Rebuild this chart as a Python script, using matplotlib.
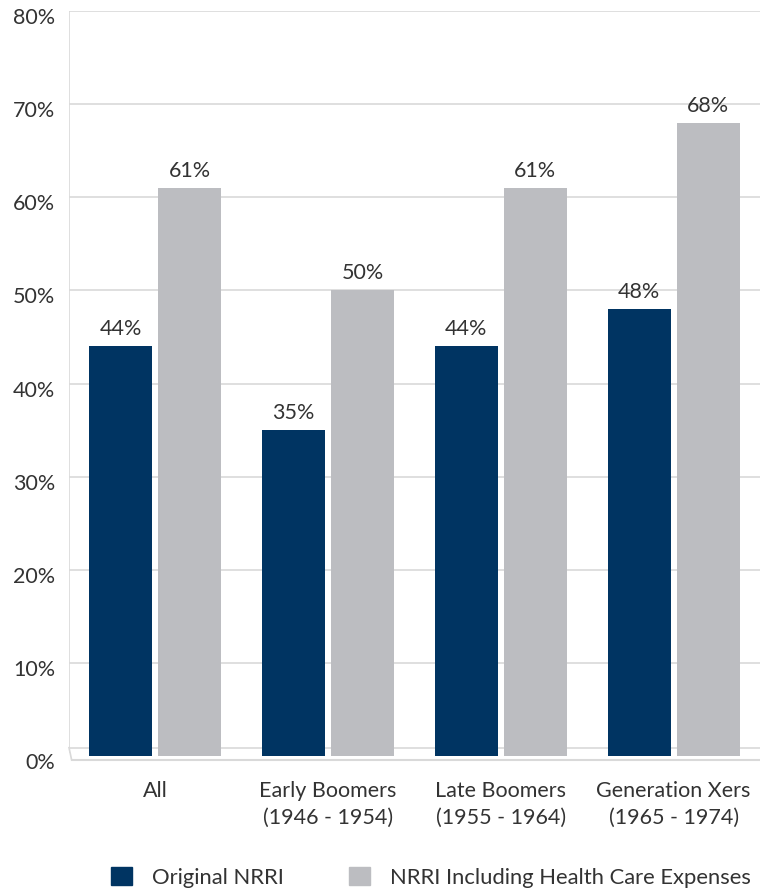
import numpy as np
import matplotlib
matplotlib.use('Agg')
import matplotlib.pyplot as plt
import matplotlib.transforms as mtransforms
from matplotlib.patches import Rectangle

# NRRI shares by cohort (%)
categories = ['All', 'Early Boomers\n(1946 - 1954)', 'Late Boomers\n(1955 - 1964)', 'Generation Xers\n(1965 - 1974)']
original_nrri = [44, 35, 44, 48]
nrri_health = [61, 50, 61, 68]
series_names = ['Original NRRI', 'NRRI Including Health Care Expenses']
y_ticks = [0, 10, 20, 30, 40, 50, 60, 70, 80]

NAVY = '#003462'
GRAY = '#bcbdc1'
TEXT = '#333333'
GRID = '#d9d9d9'

plt.rcParams['font.family'] = ['Lato', 'DejaVu Sans']

fig = plt.figure(figsize=(7.6, 8.93), dpi=100)
ax = fig.add_axes([0.0908, 0.1471, 0.9092, 0.8406])

x = np.arange(len(categories))
width = 0.365
offset = 0.2

ax.set_xlim(-0.5, 3.5)
ax.set_ylim(-0.6, 80)

# gridlines (skip zero, the floor is drawn separately)
for yv in y_ticks[1:]:
    ax.axhline(yv, color=GRID, linewidth=1.2, zorder=0)

# floor and back wall
ax.axvline(-0.5, ymin=0.013, ymax=1.0, color=GRID, linewidth=1.2, zorder=0)
ax.axhline(0.9, color=GRID, linewidth=1.2, zorder=0)
ax.plot([-0.5, -0.485], [0.9, -0.4], color=GRID, linewidth=1.2, zorder=0, clip_on=False)
ax.plot([-0.485, 3.5], [-0.4, -0.4], color=GRID, linewidth=1.5, zorder=0, clip_on=False)

b1 = ax.bar(x - offset, original_nrri, width, color=NAVY, label=series_names[0], zorder=2)
b2 = ax.bar(x + offset, nrri_health, width, color=GRAY, label=series_names[1], zorder=2)

for bars, vals in ((b1, original_nrri), (b2, nrri_health)):
    for rect, v in zip(bars, vals):
        ax.annotate(f'{v}%', xy=(rect.get_x() + rect.get_width() / 2, v),
                    xytext=(0, 5), textcoords='offset points',
                    ha='center', va='bottom', fontsize=15.5, color=TEXT)

for s in ax.spines.values():
    s.set_visible(False)

ax.set_yticks(y_ticks)
ax.set_yticklabels([f'{v}%' for v in y_ticks], fontsize=15.5, color=TEXT)
ax.tick_params(axis='y', length=0, pad=10)
shift = mtransforms.ScaledTranslation(0, -5 / 100, fig.dpi_scale_trans)
for lbl in ax.get_yticklabels():
    lbl.set_transform(lbl.get_transform() + shift)

ax.set_xticks(x)
ax.set_xticklabels(categories, fontsize=15.5, color=TEXT, linespacing=1.4)
ax.tick_params(axis='x', length=0, pad=14)

handles = [Rectangle((0, 0), 1, 1, color=NAVY), Rectangle((0, 0), 1, 1, color=GRAY)]
fig.legend(handles, series_names, loc='lower center', bbox_to_anchor=(0.567, -0.016),
           ncol=2, frameon=False, fontsize=15.8, handlelength=0.95, handleheight=0.95,
           columnspacing=3.0, handletextpad=0.9, labelcolor=TEXT)

fig.savefig('out.png', dpi=100)
